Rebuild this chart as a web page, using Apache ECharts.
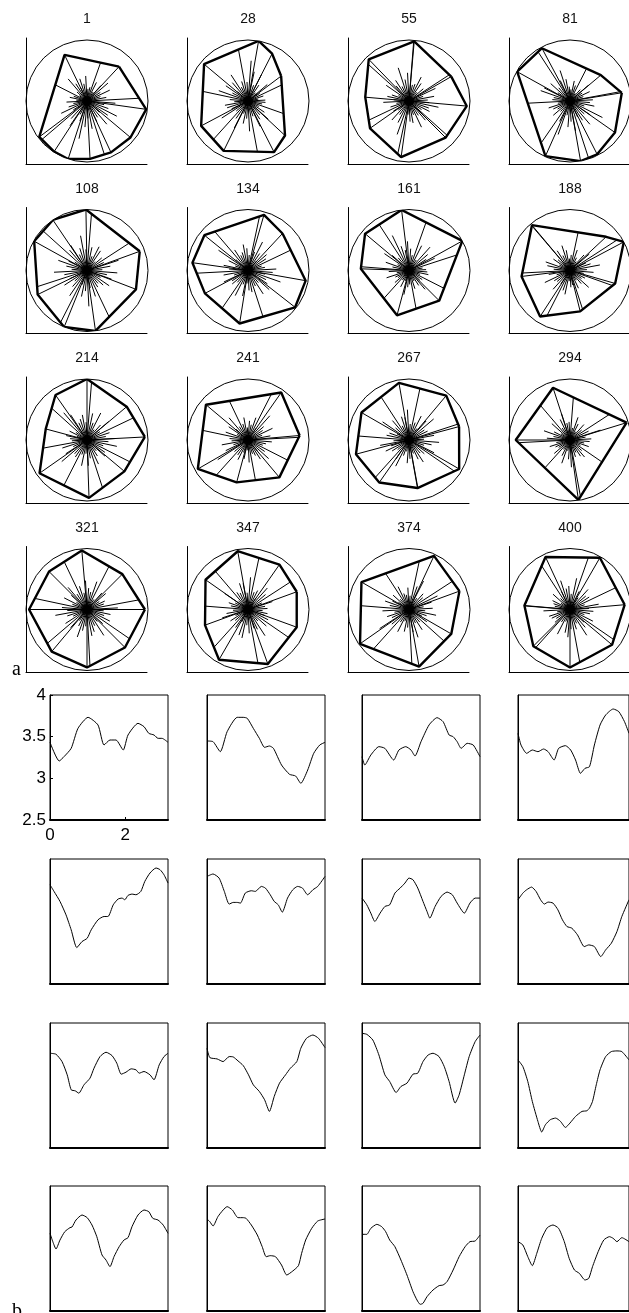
<!DOCTYPE html>
<html><head><meta charset="utf-8">
<script src="https://cdn.jsdelivr.net/npm/echarts@6/dist/echarts.min.js"></script>
<style>html,body{margin:0;padding:0;background:#fff}#c{width:629px;height:1313px}</style>
</head><body><div id="c"></div>
<script>
// ---------- DATA ----------
const panelTitles = ['1','28','55','81','108','134','161','188','214','241','267','294','321','347','374','400'];

// convex polygon vertices: [angle (deg, ccw from east), radius (circle = 1)]
const poly1   = [[47,0.77],[116,0.84],[217,0.98],[237,0.99],[252,1.0],[273,0.95],[295,0.93],[320,0.93],[352,0.98]];
const poly28  = [[37,0.68],[63,0.87],[80,1.0],[140,0.94],[208,0.87],[244,0.91],[297,0.94],[317,0.83]];
const poly55  = [[30,0.8],[85,0.98],[134,0.95],[175,0.72],[215,0.78],[262,0.93],[315,0.85],[355,0.95]];
const poly81  = [[9,0.86],[40,0.66],[118,0.98],[151,0.99],[246,0.99],[280,1.0],[297,0.98],[325,0.9]];
const poly108 = [[20,0.92],[91,1.0],[124,1.0],[151,0.99],[206,0.9],[248,1.0],[278,1.0],[339,0.86]];
const poly134 = [[47,0.83],[74,0.95],[141,0.92],[172,0.92],[208,0.8],[261,0.88],[322,0.98],[350,0.96]];
const poly161 = [[29,1.0],[97,1.0],[140,0.94],[178,0.79],[255,0.76],[315,0.7]];
const poly188 = [[28,1.0],[43,0.81],[130,0.97],[187,0.8],[237,0.9],[284,0.69],[344,0.77]];
const poly214 = [[3,0.95],[40,0.85],[90,1.0],[125,0.9],[165,0.7],[215,0.95],[272,0.95],[320,0.8]];
const poly241 = [[5,0.85],[55,0.95],[140,0.9],[210,0.95],[255,0.72],[310,0.8]];
const poly267 = [[15,0.85],[50,0.95],[100,0.95],[150,0.9],[195,0.9],[235,0.85],[280,0.8],[330,0.95]];
const poly294 = [[17,0.97],[108,0.9],[180,0.89],[278,0.99]];
const poly321 = [[0,0.95],[45,0.82],[95,0.97],[135,0.88],[180,0.95],[230,0.9],[270,0.95],[315,0.88]];
const poly347 = [[20,0.85],[55,0.9],[100,0.97],[145,0.85],[200,0.75],[240,0.95],[290,0.95],[340,0.85]];
const poly374 = [[20,0.88],[65,0.97],[150,0.9],[215,0.98],[280,0.95],[330,0.8]];
const poly400 = [[5,0.9],[60,0.98],[115,0.95],[175,0.75],[225,0.85],[270,0.95],[320,0.9]];

// radial spokes, evenly spaced, length as a fraction of the polygon boundary distance
const spk1  = [1,.4,.3,.55,.35,.6,.45,.25,.5,1,.35,.3,.6,.4,.5,.3,.45,.7,.35,.25,1,.4,.5,.3,.55,.35,.45,.6,.3,1,.4,.5,.25,.35,.65,.45,.3,.5,1,.4,.35,.55,.3,.45,.6,.4,.3,.5];
const spk28 = [.5,.3,.45,1,.35,.6,.25,.4,.55,.3,.5,.7,.35,1,.4,.3,.6,.45,.25,.5,.35,.65,1,.4,.3,.5,.45,.35,.6,.3,1,.4,.55,.25,.45,.35,.6,1,.3,.5,.4,.35,.55,.45,.3,1,.4,.5];
const spk55 = [.35,.5,.3,.6,1,.4,.25,.45,.55,.35,.3,1,.5,.4,.65,.3,.45,.35,1,.55,.25,.4,.5,.35,.6,.3,.45,1,.4,.3,.55,.35,.5,.7,1,.25,.4,.45,.3,.6,.35,.5,1,.3,.45,.4,.55,.35];
const spk81 = [.45,1,.3,.5,.35,.6,.4,.25,1,.45,.55,.3,.35,.5,.65,.4,1,.3,.45,.25,.5,.6,.35,.4,1,.3,.55,.45,.35,.5,.3,1,.4,.6,.25,.45,.35,.5,1,.3,.4,.55,.35,.45,.7,.3,.5,.4];
const spk108 = [.3,.45,.6,.35,1,.4,.25,.5,.55,.3,.45,1,.35,.6,.4,.3,.5,.45,1,.25,.35,.55,.4,.3,.65,.45,1,.35,.5,.3,.4,.55,1,.25,.45,.35,.6,.3,.5,1,.4,.35,.45,.55,.3,.5,.4,.6];
const spk134 = [.55,.35,.3,1,.45,.5,.25,.4,.6,.35,1,.3,.45,.55,.4,.35,.5,1,.3,.65,.4,.25,.45,.35,1,.5,.3,.55,.4,.45,.35,1,.6,.3,.5,.25,.4,.45,1,.35,.55,.3,.5,.4,.35,.6,.3,.45];
const spk161 = [.4,.3,1,.5,.35,.45,.6,.25,.55,1,.3,.4,.5,.35,.45,.7,1,.3,.4,.55,.25,.5,.35,1,.45,.3,.6,.4,.35,.5,1,.3,.45,.25,.55,.4,.35,1,.5,.3,.45,.6,.35,.4,1,.3,.5,.45];
const spk188 = [.35,.6,.4,.3,1,.5,.45,.25,.35,.55,1,.4,.3,.5,.6,.35,.45,1,.3,.4,.25,.55,.5,.35,1,.45,.3,.6,.4,.35,.5,.3,1,.45,.55,.25,.4,.35,1,.5,.3,.45,.65,.35,.4,1,.3,.5];
const spk214 = [.5,.35,.45,1,.3,.55,.4,.25,.6,.35,.5,1,.3,.45,.4,.35,.55,.7,1,.3,.45,.25,.5,.4,.35,1,.55,.3,.45,.6,.35,.4,1,.3,.5,.25,.45,.35,1,.55,.4,.3,.5,.45,1,.35,.6,.4];
const spk241 = [1,.45,.3,.55,.35,.4,.6,.25,1,.5,.35,.45,.3,.55,.4,1,.35,.6,.3,.45,.25,.5,1,.4,.35,.55,.3,.45,.65,.35,1,.4,.5,.3,.45,.25,.55,1,.35,.4,.5,.3,.6,.45,1,.35,.4,.5];
const spk267 = [.3,.5,1,.4,.35,.6,.45,.25,.5,.35,1,.3,.55,.4,.45,.3,1,.5,.35,.6,.25,.4,.45,1,.3,.55,.35,.5,.4,.3,1,.45,.6,.35,.25,.5,.4,1,.3,.45,.55,.35,.4,1,.5,.3,.45,.6];
const spk294 = [.45,.3,.55,.4,1,.35,.5,.25,.45,.6,.3,1,.4,.35,.5,.45,.3,1,.55,.25,.4,.6,.35,.45,1,.3,.5,.4,.35,.55,1,.3,.45,.6,.25,.4,.5,1,.35,.3,.45,.55,.4,1,.3,.5,.35,.45];
const spk321 = [.55,1,.35,.4,.3,.5,.45,.25,1,.6,.35,.4,.5,.3,.45,1,.35,.55,.4,.25,.5,.3,1,.45,.35,.6,.4,.3,.5,1,.45,.25,.35,.55,.4,.3,1,.5,.45,.35,.6,.3,.4,1,.5,.35,.45,.3];
const spk347 = [.4,.35,.5,.3,1,.45,.55,.25,.4,.35,1,.6,.3,.45,.5,.35,.4,1,.25,.55,.3,.45,.4,1,.35,.5,.6,.3,.45,.35,1,.4,.25,.5,.55,.3,.45,1,.35,.4,.6,.3,.5,1,.45,.35,.4,.3];
const spk374 = [.5,.3,.45,.6,1,.35,.4,.25,.55,.45,1,.3,.5,.35,.4,.6,1,.3,.45,.25,.35,.5,.4,1,.55,.3,.45,.35,.6,.4,1,.3,.5,.25,.45,.35,1,.4,.55,.3,.5,.35,1,.45,.3,.4,.6,.35];
const spk400 = [.35,.55,.3,1,.45,.4,.5,.25,.35,1,.6,.3,.45,.4,.55,.35,1,.3,.5,.25,.45,.4,.35,1,.6,.3,.5,.45,.35,.4,1,.3,.55,.25,.45,.5,.35,1,.4,.3,.6,.45,.35,1,.5,.3,.4,.45];

// b: curves, x in [0, pi], y in [2.5, 4]
const cx1  = [0,.245,.373,.564,.745,1.012,1.278,1.438,1.597,1.757,1.949,2.077,2.343,2.503,2.630,2.769,2.876,2.982,3.142];
const cy1  = [3.432,3.208,3.26,3.36,3.60,3.732,3.64,3.40,3.46,3.46,3.34,3.52,3.66,3.62,3.54,3.52,3.48,3.48,3.432];
const cx2  = [0,.161,.354,.536,.804,.965,1.072,1.233,1.394,1.533,1.662,1.769,1.984,2.198,2.359,2.498,2.681,2.841,3.002,3.142];
const cy2  = [3.448,3.44,3.32,3.56,3.732,3.732,3.72,3.60,3.48,3.372,3.388,3.36,3.16,3.048,3.028,2.94,3.10,3.30,3.40,3.432];
const cx3  = [0,.075,.235,.449,.609,.844,.983,1.165,1.304,1.411,1.571,1.785,1.998,2.159,2.319,2.426,2.533,2.640,2.800,2.961,3.142];
const cy3  = [3.26,3.16,3.28,3.38,3.36,3.22,3.34,3.38,3.34,3.268,3.44,3.64,3.728,3.68,3.52,3.50,3.44,3.36,3.42,3.40,3.26];
const cx4  = [0,.085,.245,.405,.565,.724,.852,1.022,1.150,1.342,1.491,1.629,1.768,1.896,2.024,2.162,2.322,2.481,2.694,2.854,3.014,3.142];
const cy4  = [3.54,3.40,3.30,3.34,3.32,3.352,3.32,3.22,3.36,3.392,3.34,3.22,3.06,3.12,3.14,3.40,3.64,3.76,3.832,3.80,3.68,3.54];
const cx5  = [0,.107,.266,.426,.564,.713,.852,.990,1.097,1.278,1.438,1.544,1.683,1.811,1.917,1.992,2.077,2.183,2.290,2.418,2.524,2.662,2.822,2.929,3.035,3.142];
const cy5  = [3.691,3.611,3.491,3.330,3.150,2.937,3.009,3.049,3.150,3.270,3.310,3.310,3.450,3.519,3.531,3.511,3.563,3.579,3.571,3.611,3.731,3.832,3.892,3.872,3.811,3.711];
const cx6  = [0,.161,.322,.461,.590,.697,.804,.890,1.019,1.180,1.287,1.448,1.555,1.683,1.790,1.897,2.005,2.144,2.284,2.412,2.541,2.680,2.820,2.948,3.142];
const cy6  = [3.791,3.820,3.771,3.611,3.459,3.479,3.479,3.471,3.591,3.619,3.611,3.671,3.651,3.571,3.491,3.450,3.362,3.531,3.631,3.671,3.651,3.571,3.631,3.671,3.791];
const cx7  = [0,.128,.235,.342,.481,.609,.737,.876,1.015,1.143,1.250,1.357,1.485,1.624,1.731,1.806,1.945,2.105,2.265,2.404,2.533,2.725,2.874,3.013,3.142];
const cy7  = [3.531,3.450,3.350,3.250,3.350,3.430,3.450,3.591,3.651,3.711,3.771,3.751,3.651,3.491,3.370,3.290,3.430,3.551,3.603,3.571,3.471,3.350,3.471,3.531,3.531];
const cx8  = [0,.138,.245,.383,.511,.639,.745,.852,.990,1.129,1.257,1.385,1.523,1.683,1.875,2.003,2.162,2.343,2.481,2.641,2.801,2.939,3.142];
const cy8  = [3.511,3.591,3.631,3.663,3.611,3.511,3.459,3.483,3.471,3.390,3.270,3.190,3.170,3.090,2.949,2.969,2.949,2.829,2.909,2.989,3.130,3.310,3.511];
const cx9  = [0,.160,.320,.458,.564,.671,.767,.905,1.065,1.171,1.331,1.491,1.651,1.779,1.896,2.024,2.162,2.290,2.375,2.503,2.662,2.769,2.907,3.035,3.142];
const cy9  = [3.637,3.625,3.537,3.378,3.198,3.186,3.158,3.258,3.338,3.457,3.597,3.649,3.609,3.517,3.386,3.410,3.450,3.438,3.398,3.418,3.378,3.318,3.497,3.597,3.637];
const cx10 = [0,.075,.268,.429,.590,.697,.826,.965,1.105,1.233,1.394,1.533,1.662,1.790,1.930,2.091,2.219,2.391,2.498,2.648,2.820,2.970,3.142];
const cy10 = [3.697,3.585,3.569,3.537,3.597,3.593,3.545,3.489,3.378,3.258,3.178,3.079,2.939,3.119,3.278,3.378,3.457,3.537,3.697,3.816,3.856,3.816,3.705];
const cx11 = [0,.128,.288,.449,.609,.737,.908,1.036,1.197,1.357,1.485,1.624,1.763,1.891,2.051,2.190,2.319,2.479,2.586,2.725,2.853,3.013,3.142];
const cy11 = [3.876,3.864,3.796,3.617,3.378,3.298,3.166,3.238,3.278,3.386,3.398,3.537,3.617,3.637,3.597,3.477,3.298,3.039,3.138,3.378,3.597,3.777,3.856];
const cx12 = [0,.138,.277,.405,.564,.671,.777,.916,1.065,1.203,1.342,1.470,1.629,1.811,1.949,2.024,2.109,2.215,2.322,2.481,2.641,2.801,2.939,3.142];
const cy12 = [3.557,3.477,3.298,3.059,2.819,2.692,2.780,2.840,2.859,2.819,2.747,2.799,2.879,2.939,2.947,2.979,3.059,3.258,3.438,3.597,3.657,3.665,3.657,3.557];
const cx13 = [0,.075,.160,.266,.394,.532,.586,.692,.852,.990,1.118,1.246,1.385,1.491,1.597,1.704,1.842,1.970,2.077,2.183,2.343,2.503,2.630,2.737,2.875,3.013,3.142];
const cy13 = [3.432,3.332,3.244,3.352,3.452,3.500,3.508,3.592,3.652,3.620,3.532,3.392,3.172,3.112,3.032,3.152,3.272,3.352,3.380,3.512,3.652,3.712,3.692,3.612,3.592,3.532,3.432];
const cx14 = [0,.075,.161,.290,.429,.536,.675,.826,.965,1.040,1.180,1.340,1.469,1.576,1.683,1.823,1.984,2.123,2.284,2.434,2.519,2.627,2.788,2.948,3.142];
const cy14 = [3.604,3.572,3.520,3.632,3.712,3.752,3.712,3.620,3.620,3.612,3.532,3.412,3.272,3.152,3.164,3.152,3.052,2.932,2.980,3.044,3.192,3.352,3.492,3.580,3.604];
const cx15 = [0,.128,.235,.395,.524,.630,.737,.876,1.036,1.197,1.357,1.464,1.549,1.624,1.731,1.891,2.051,2.158,2.265,2.426,2.586,2.746,2.874,3.013,3.142];
const cy15 = [3.420,3.420,3.492,3.540,3.512,3.452,3.352,3.272,3.112,2.932,2.732,2.632,2.580,2.592,2.672,2.752,2.804,2.812,2.852,2.992,3.152,3.272,3.332,3.340,3.412];
const cx16 = [0,.138,.277,.405,.532,.671,.830,.990,1.150,1.310,1.448,1.597,1.736,1.896,2.003,2.109,2.269,2.428,2.588,2.694,2.801,2.939,3.142];
const cy16 = [3.332,3.292,3.152,3.044,3.192,3.372,3.500,3.532,3.492,3.332,3.132,2.992,2.952,2.872,2.892,3.032,3.212,3.352,3.392,3.372,3.332,3.380,3.332];

const yTicks = [2.5, 3, 3.5, 4];
const xTicks = [0, 2];

const polygons = [poly1,poly28,poly55,poly81,poly108,poly134,poly161,poly188,poly214,poly241,poly267,poly294,poly321,poly347,poly374,poly400];
const spokeSets = [spk1,spk28,spk55,spk81,spk108,spk134,spk161,spk188,spk214,spk241,spk267,spk294,spk321,spk347,spk374,spk400];
const curveXs = [cx1,cx2,cx3,cx4,cx5,cx6,cx7,cx8,cx9,cx10,cx11,cx12,cx13,cx14,cx15,cx16];
const curveYs = [cy1,cy2,cy3,cy4,cy5,cy6,cy7,cy8,cy9,cy10,cy11,cy12,cy13,cy14,cy15,cy16];

// ---------- LAYOUT ----------
const TL = [26,187,348,509], TT = [38,207.5,377,546.5], TW = 121, TH = 126, R = 61;
const BL = [50,207,362,518], BT = [695,859,1023,1186], BW = 118, BH = 125;
const SANS = 'Liberation Sans, Arial, Helvetica, sans-serif';
const SERIF = 'Liberation Serif, Times New Roman, serif';

function boundary(poly, ang) {
  const d2r = Math.PI/180;
  const pts = poly.map(([a,r]) => [r*Math.cos(a*d2r), r*Math.sin(a*d2r)]);
  const ux = Math.cos(ang*d2r), uy = Math.sin(ang*d2r);
  let best = 1;
  for (let i = 0; i < pts.length; i++) {
    const a = pts[i], b = pts[(i+1)%pts.length];
    const ex = b[0]-a[0], ey = b[1]-a[1];
    const det = -ux*ey + ex*uy;
    if (Math.abs(det) < 1e-12) continue;
    const t = (-a[0]*ey + ex*a[1]) / det;
    const s = (ux*a[1] - uy*a[0]) / det;
    if (t > 0 && s >= -1e-9 && s <= 1+1e-9) best = Math.min(best, t);
  }
  return best;
}

const polar = [], angleAxis = [], radiusAxis = [], grid = [], xAxis = [], yAxis = [], series = [], graphic = [];

for (let i = 0; i < 16; i++) {
  const r = Math.floor(i/4), c = i%4;
  const left = TL[c], top = TT[r];
  const cx = left + R, cy = top + 63;
  polar.push({center: [cx, cy], radius: R});
  angleAxis.push({polarIndex: i, type: 'value', min: 0, max: 360, startAngle: 0, clockwise: false,
    axisLine: {show: true, lineStyle: {color: '#000', width: 1}}, axisTick: {show: false},
    axisLabel: {show: false}, splitLine: {show: false}});
  radiusAxis.push({polarIndex: i, type: 'value', min: 0, max: 1, show: false});
  grid.push({left: left, top: top, width: TW, height: TH, show: false});
  const ax = {type: 'value', min: 0, max: 1, axisLine: {show: true, onZero: false, lineStyle: {color: '#000', width: 1}},
    axisTick: {show: false}, axisLabel: {show: false}, splitLine: {show: false}};
  xAxis.push(Object.assign({gridIndex: i}, ax));
  yAxis.push(Object.assign({gridIndex: i}, ax));

  const poly = polygons[i];
  const spk = spokeSets[i];
  const spokeData = spk.map((f, k) => { const a = k*360/spk.length + 3; return [f*boundary(poly, a), a]; });
  poly.forEach(v => spokeData.push([v[1], v[0]]));
  series.push({type: 'custom', coordinateSystem: 'polar', polarIndex: i, data: spokeData,
    encode: {radius: 0, angle: 1}, silent: true,
    renderItem: (params, api) => {
      const p0 = api.coord([0, api.value(1)]);
      const p1 = api.coord([api.value(0), api.value(1)]);
      return {type: 'line', shape: {x1: p0[0], y1: p0[1], x2: p1[0], y2: p1[1]},
        style: {stroke: '#000', lineWidth: 1}};
    }});
  const pd = poly.map(v => [v[1], v[0]]); pd.push([poly[0][1], poly[0][0]]);
  series.push({type: 'line', coordinateSystem: 'polar', polarIndex: i, data: pd, symbol: 'none',
    lineStyle: {color: '#000', width: 2.4}, silent: true});
  series.push({type: 'scatter', coordinateSystem: 'polar', polarIndex: i, data: [[0, 0]],
    symbol: 'circle', symbolSize: 10, itemStyle: {color: '#000'}, silent: true});
  graphic.push({type: 'text', x: cx, y: top - 18.5, style: {text: panelTitles[i], font: '14px ' + SANS,
    fill: '#111', align: 'center', verticalAlign: 'middle'}});
}

for (let i = 0; i < 16; i++) {
  const r = Math.floor(i/4), c = i%4;
  const g = 16 + i;
  const first = i === 0;
  grid.push({left: BL[c], top: BT[r], width: BW, height: BH, show: true, borderColor: '#000', borderWidth: 1, backgroundColor: 'transparent'});
  xAxis.push({gridIndex: g, type: 'value', min: 0, max: Math.PI, interval: 2,
    axisLine: {show: true, onZero: false, lineStyle: {color: '#000', width: 2}},
    axisTick: first ? {show: true, inside: true, length: 3, customValues: xTicks, lineStyle: {color: '#000'}} : {show: false},
    axisLabel: first ? {show: true, customValues: xTicks, fontSize: 17, fontFamily: SANS, color: '#000', margin: 7} : {show: false},
    splitLine: {show: false}});
  yAxis.push({gridIndex: g, type: 'value', min: 2.5, max: 4, interval: 0.5,
    axisLine: {show: true, onZero: false, lineStyle: {color: '#000', width: 1}},
    axisTick: first ? {show: true, inside: true, length: 3, customValues: yTicks, lineStyle: {color: '#000'}} : {show: false},
    axisLabel: first ? {show: true, customValues: yTicks, fontSize: 17, fontFamily: SANS, color: '#000', margin: 4} : {show: false},
    splitLine: {show: false}});
  const xs = curveXs[i], ys = curveYs[i];
  series.push({type: 'line', xAxisIndex: g, yAxisIndex: g, data: xs.map((x, k) => [x, ys[k]]),
    symbol: 'none', smooth: 0.2, lineStyle: {color: '#000', width: 1}, silent: true});
}

graphic.push({type: 'text', x: 12, y: 670, style: {text: 'a', font: '20px ' + SERIF, fill: '#000', align: 'left', verticalAlign: 'middle'}});
graphic.push({type: 'text', x: 12, y: 1312, style: {text: 'b', font: '20px ' + SERIF, fill: '#000', align: 'left', verticalAlign: 'middle'}});

const chart = echarts.init(document.getElementById('c'), null, {renderer: 'canvas'});
chart.setOption({animation: false, backgroundColor: '#fff', polar, angleAxis, radiusAxis, grid, xAxis, yAxis, series, graphic});
</script>
</body></html>
